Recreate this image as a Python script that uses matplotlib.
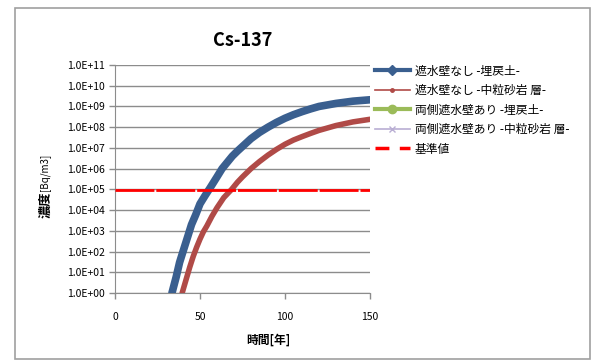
import math
import matplotlib.pyplot as plt
import matplotlib.patches as patches
from matplotlib.lines import Line2D
from matplotlib.ticker import FixedLocator, FuncFormatter, NullLocator

plt.rcParams['font.family'] = ['Noto Sans CJK JP', 'DejaVu Sans']

# 遮水壁なし -埋戻土- (年, Bq/m3)
years_a = [33.5, 36, 38, 40, 43, 45, 47.5, 50, 53, 56, 60, 63, 66, 69, 72, 76, 80, 85, 90,
           95, 100, 105, 110, 115, 120, 130, 140, 150]
conc_a = [1.0, 6, 30, 100, 600, 2e3, 6e3, 2e4, 5e4, 1.2e5, 4e5, 1e6, 2e6, 4e6, 7e6, 1.4e7, 2.8e7,
          5.6e7, 1e8, 1.7e8, 2.7e8, 4e8, 5.6e8, 7.6e8, 1e9, 1.4e9, 1.8e9, 2.1e9]

# 遮水壁なし -中粒砂岩層-
years_b = [39.5, 42, 44, 46, 48, 50, 52, 54, 57, 60, 64, 68.6, 72, 75, 80, 85, 90, 95, 100,
           105, 110, 115, 120, 130, 140, 150]
conc_b = [1.0, 5, 18, 58, 160, 400, 900, 1.7e3, 5e3, 1.3e4, 4e4, 1e5, 2.2e5, 4e5, 1e6, 2.2e6,
          4.5e6, 8.5e6, 1.5e7, 2.4e7, 3.5e7, 5e7, 7e7, 1.2e8, 1.8e8, 2.4e8]

# 両側遮水壁あり (表示範囲外)
years_c, conc_c = [], []
years_d, conc_d = [], []

# 基準値
std_years = [0, 150]
std_value = [9.0e4, 9.0e4]

labels = ['遮水壁なし -埋戻土-', '遮水壁なし -中粒砂岩 層-',
          '両側遮水壁あり -埋戻土-', '両側遮水壁あり -中粒砂岩 層-', '基準値']
yticks = [10.0 ** k for k in range(0, 12)]
xticks = [0, 50, 100, 150]

blue = '#3A5F8F'
red = '#B04A47'
green = '#9BBB59'
purple = '#B9AED3'

fig = plt.figure(figsize=(5.97, 3.61), dpi=100)
fig.patches.append(patches.Rectangle((15 / 597, 0.005), 575 / 597, 1 - 8 / 361 - 0.005,
                                     transform=fig.transFigure, fill=False,
                                     edgecolor='#A0A0A0', linewidth=1.2))
ax = fig.add_axes([115 / 597, 1 - 293 / 361, 255 / 597, 228 / 361])

ax.plot(years_a, conc_a, color=blue, lw=5.5, solid_capstyle='round', solid_joinstyle='round', zorder=4)
ax.plot(years_b, conc_b, color=red, lw=4, solid_capstyle='round', solid_joinstyle='round', zorder=3)
ax.plot(years_c, conc_c, color=green, marker='o')
ax.plot(years_d, conc_d, color=purple, marker='x')
ax.plot(std_years, std_value, color='#FF0000', lw=2, dashes=(14, 0.7), zorder=5)

ax.set_yscale('log')
ax.set_xlim(0, 150)
ax.set_ylim(1, 1e11)
ax.yaxis.set_major_locator(FixedLocator(yticks))
ax.yaxis.set_minor_locator(NullLocator())
ax.yaxis.set_major_formatter(FuncFormatter(lambda v, p: '1.0E+%02d' % round(math.log10(v))))
ax.set_xticks(xticks)
ax.grid(axis='y', color='#8C8C8C', linewidth=1)
ax.set_axisbelow(True)
for s in ['top', 'right']:
    ax.spines[s].set_visible(False)
for s in ['left', 'bottom']:
    ax.spines[s].set_color('#8C8C8C')
ax.tick_params(axis='both', colors='#8C8C8C', labelcolor='black', labelsize=7.5, length=4, width=1)
ax.tick_params(axis='x', pad=10)

ax.set_title('Cs-137', fontsize=13, fontweight='bold', pad=14)
fig.text(268 / 597, 1 - 340 / 361, '時間[年]', ha='center', va='center', fontsize=8.5, fontweight='bold')
fig.text(45 / 597, 1 - 205 / 361, '濃度', ha='center', va='center', rotation=90,
         fontsize=9.5, fontweight='bold')
fig.text(45 / 597, 1 - 172 / 361, '[Bq/m3]', ha='center', va='center', rotation=90,
         fontsize=7)

handles = [
    Line2D([], [], color=blue, lw=3, marker='D', ms=5),
    Line2D([], [], color=red, lw=1.2, marker='o', ms=2.5),
    Line2D([], [], color=green, lw=3, marker='o', ms=6),
    Line2D([], [], color=purple, lw=1.2, marker='x', ms=4),
    Line2D([], [], color='#FF0000', lw=2.5, dashes=(4, 3)),
]
fig.legend(handles, labels, loc='upper left', bbox_to_anchor=(364 / 597, 1 - 54 / 361),
           frameon=False, fontsize=8.5, handlelength=3.0, labelspacing=0.55, handletextpad=0.4)

fig.savefig('out.png', dpi=100)
